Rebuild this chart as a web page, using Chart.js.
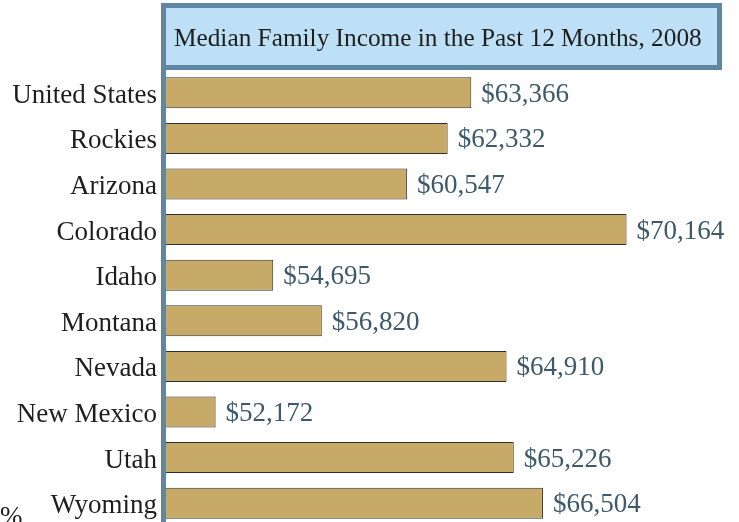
<!DOCTYPE html>
<html>
<head>
<meta charset="utf-8">
<script src="https://cdn.jsdelivr.net/npm/chart.js@4"></script>
<style>
  html, body { margin: 0; padding: 0; background: #fff; overflow: hidden; }
  canvas { display: block; }
</style>
</head>
<body>
<canvas id="incomeChart" width="739" height="526"></canvas>
<script>
const states = ['United States', 'Rockies', 'Arizona', 'Colorado', 'Idaho',
                'Montana', 'Nevada', 'New Mexico', 'Utah', 'Wyoming'];
const incomes = [63366, 62332, 60547, 70164, 54695, 56820, 64910, 52172, 65226, 66504];
const chartTitle = 'Median Family Income in the Past 12 Months, 2008';

const SERIF = '"Liberation Serif", "DejaVu Serif", serif';

// title box + left rule + value labels
const decor = {
    id: 'decor',
    beforeDraw(chart) {
        const ctx = chart.ctx;
        ctx.save();
        ctx.fillStyle = '#5f87a2';
        ctx.fillRect(161, 3, 561, 67);
        ctx.fillRect(161, 3, 5, 523);
        ctx.fillStyle = '#bde0f6';
        ctx.fillRect(166, 8, 551, 57);
        ctx.fillStyle = '#1e1e1e';
        ctx.font = '25.3px ' + SERIF;
        ctx.textBaseline = 'middle';
        ctx.fillText(chartTitle, 174, 39);
        ctx.font = '27px ' + SERIF;
        ctx.fillText('%', 0, 518);
        ctx.restore();
    },
    afterDatasetsDraw(chart) {
        const ctx = chart.ctx;
        const meta = chart.getDatasetMeta(0);
        ctx.save();
        ctx.fillStyle = '#3e5a6a';
        ctx.font = '27px ' + SERIF;
        ctx.textBaseline = 'middle';
        meta.data.forEach((bar, i) => {
            ctx.fillText('$' + incomes[i].toLocaleString('en-US'), bar.x + 10, bar.y + 2);
        });
        ctx.restore();
    }
};

new Chart(document.getElementById('incomeChart'), {
    type: 'bar',
    data: {
        labels: states,
        datasets: [{
            data: incomes,
            backgroundColor: '#c8aa68',
            borderColor: '#2e2e2e',
            borderWidth: 1,
            borderSkipped: false,
            categoryPercentage: 1,
            barPercentage: 0.68
        }]
    },
    options: {
        indexAxis: 'y',
        responsive: false,
        animation: false,
        layout: { padding: { top: 70, right: 6, bottom: 0, left: 0 } },
        plugins: { legend: { display: false }, tooltip: { enabled: false } },
        scales: {
            x: { display: false, min: 50000, max: 74825 },
            y: {
                afterFit: (s) => {
                    s.width = 166;
                    s.paddingTop = 0;
                    s.paddingBottom = 0;
                },
                grid: { display: false, drawTicks: false },
                border: { display: false },
                ticks: {
                    color: '#1e1e1e',
                    padding: 9,
                    labelOffset: 3,
                    font: { family: SERIF, size: 27 }
                }
            }
        }
    },
    plugins: [decor]
});
</script>
</body>
</html>
